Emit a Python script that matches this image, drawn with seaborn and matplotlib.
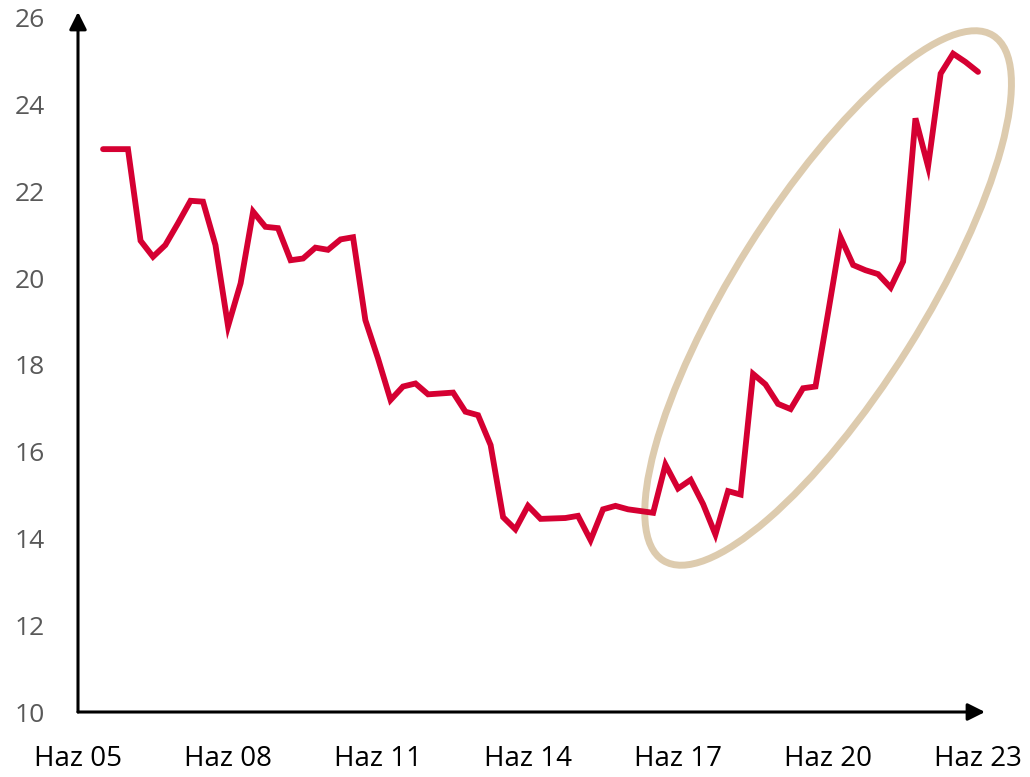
import numpy as np
import pandas as pd
import matplotlib
matplotlib.use("Agg")
import matplotlib.pyplot as plt
import matplotlib.transforms as mtransforms
from matplotlib.patches import Ellipse
import seaborn as sns

# ---- data (quarterly, Dec 2005 .. Jun 2023) ----
start_date = "2005-12-01"
end_date = "2023-06-01"
values = [22.97, 22.97, 22.97, 20.86, 20.49, 20.76, 21.26, 21.78, 21.76, 20.76,
          18.89, 19.88, 21.53, 21.18, 21.15, 20.41, 20.45, 20.70, 20.65, 20.89,
          20.94, 19.03, 18.15, 17.19, 17.50, 17.57, 17.32, 17.34, 17.36, 16.92,
          16.84, 16.15, 14.49, 14.21, 14.75, 14.45, 14.46, 14.47, 14.52, 13.96,
          14.67, 14.75, 14.67, 14.63, 14.59, 15.70, 15.15, 15.35, 14.79, 14.09,
          15.09, 15.01, 17.79, 17.55, 17.10, 16.98, 17.46, 17.50, 19.20, 20.93,
          20.30, 20.18, 20.09, 19.78, 20.38, 23.68, 22.57, 24.71, 25.17, 24.98,
          24.75]
tick_dates = ["2005-06-01", "2008-06-01", "2011-06-01", "2014-06-01",
              "2017-06-01", "2020-06-01", "2023-06-01"]
tick_labels = ["Haz 05", "Haz 08", "Haz 11", "Haz 14", "Haz 17", "Haz 20", "Haz 23"]
y_ticks = [10, 12, 14, 16, 18, 20, 22, 24, 26]
highlight_center = ("2020-06-01", 19.54)

dates = pd.date_range(start_date, end_date, freq="3MS")
df = pd.DataFrame({"date": dates, "value": values})

sns.set_style("white")
plt.rcParams["font.family"] = ["Open Sans", "DejaVu Sans"]

W, H = 1030, 777
fig = plt.figure(figsize=(W / 100, H / 100), dpi=100)
ax_left, ax_right, ax_top, ax_bottom = 78, 985, 12, 712
ax = fig.add_axes([ax_left / W, (H - ax_bottom) / H,
                   (ax_right - ax_left) / W, (ax_bottom - ax_top) / H])

sns.lineplot(data=df, x="date", y="value", ax=ax, color="#D50032",
             linewidth=4.2, solid_joinstyle="miter", solid_capstyle="round")

ax.set_xlim(pd.Timestamp("2005-06-01"), pd.Timestamp("2023-07-22"))
ax.set_ylim(10, 26.13)
ax.set_xticks(pd.to_datetime(tick_dates))
ax.set_xticklabels(tick_labels)
ax.set_yticks(y_ticks)
ax.set_yticklabels([str(v) for v in y_ticks])
ax.set_xlabel("")
ax.set_ylabel("")

ax.tick_params(axis="x", length=0, pad=24, labelsize=20, labelcolor="black")
ax.tick_params(axis="y", length=0, pad=24, labelsize=19, labelcolor="#595959")
for lab in ax.get_xticklabels():
    lab.set_family(["Liberation Sans Narrow", "Open Sans", "DejaVu Sans"])

for s in ax.spines.values():
    s.set_visible(False)

arrow_kw = dict(arrowstyle="-|>", color="black", lw=2.2, mutation_scale=26,
                shrinkA=0, shrinkB=0)
ax.annotate("", xy=(1, 0), xytext=(0, 0), xycoords="axes fraction",
            textcoords="axes fraction", arrowprops=arrow_kw, annotation_clip=False)
ax.annotate("", xy=(0, 1), xytext=(0, 0), xycoords="axes fraction",
            textcoords="axes fraction", arrowprops=arrow_kw, annotation_clip=False)

# highlight ellipse: centre in data coords, size in inches
cx = matplotlib.dates.date2num(pd.Timestamp(highlight_center[0]))
cy = highlight_center[1]
trans = fig.dpi_scale_trans + mtransforms.ScaledTranslation(cx, cy, ax.transData)
ell = Ellipse((0, 0), width=6.2, height=1.89, angle=57.85, transform=trans,
              fill=False, edgecolor="#DDCBAE", linewidth=5, clip_on=False)
ax.add_patch(ell)

fig.savefig("out.png", dpi=100)
